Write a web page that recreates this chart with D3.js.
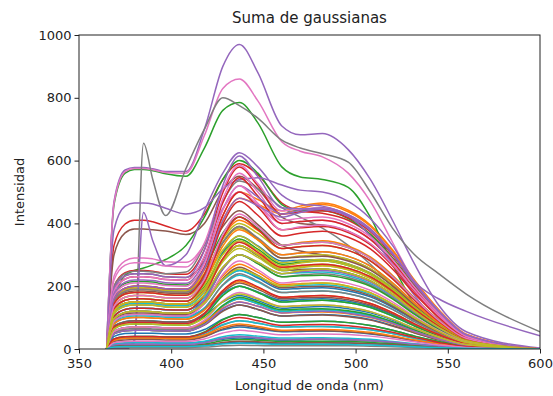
<!DOCTYPE html>
<html>
<head>
<meta charset="utf-8">
<script src="https://cdn.jsdelivr.net/npm/d3@7"></script>
<style>
  html, body { margin: 0; padding: 0; background: #ffffff; }
  svg { display: block; font-family: "DejaVu Sans", sans-serif; }
</style>
</head>
<body>
<svg id="chart" width="553" height="396"></svg>
<script>
// Sample wavelengths (nm) shared by every spectrum
const wavelengths = [365, 369, 375, 380, 385, 390, 397, 408, 418, 428, 437, 447, 460, 470, 482, 496, 508, 520, 532, 545, 560, 600];

// Intensity of each spectrum at the sample wavelengths
const spectra = [
  [0,120,146,150,150,149,144,143,192,308,360,328,280,283,285,271,242,194,134,77,29,0],
  [0,160,194,200,200,198,192,190,260,425,500,476,440,455,465,442,395,316,219,126,47,0],
  [0,460,560,572,572,568,558,550,640,760,785,720,580,548,540,515,420,270,140,55,12,0],
  [0,330,398,410,410,405,392,375,430,540,590,555,465,440,432,410,365,290,200,110,35,0],
  [0,470,570,578,578,574,565,565,700,900,970,880,710,682,686,635,540,410,270,140,55,3],
  [0,300,370,382,382,380,376,365,400,505,550,510,420,400,395,375,335,270,185,100,30,0],
  [0,465,565,575,575,571,562,560,680,830,860,790,660,630,612,560,470,340,210,100,30,1],
  [0,0,0,20,655,540,425,575,700,800,775,735,665,640,622,595,500,385,300,240,175,55],
  [0,160,194,200,200,198,192,190,240,350,400,368,320,326,330,314,281,224,155,89,33,0],
  [0,116,141,145,145,144,139,138,182,284,330,298,250,253,255,242,217,173,120,69,26,0],

  [0,104,126,130,130,129,125,124,154,220,250,226,190,193,195,185,166,133,92,53,20,0],
  [0,156,189,195,195,193,187,185,252,409,480,460,430,448,460,437,391,313,216,124,46,0],
  [0,150,235,250,258,268,285,330,420,540,600,560,460,440,440,415,365,290,200,110,35,0],
  [0,200,243,250,250,248,240,238,316,498,580,520,430,436,440,418,374,299,207,119,44,0],
  [0,380,455,465,465,462,448,430,450,510,540,545,522,506,500,470,415,330,215,160,120,42],
  [0,192,233,240,240,238,230,228,280,390,440,396,330,312,300,285,255,204,141,81,30,0],
  [0,232,281,290,290,287,278,276,332,448,500,460,400,406,410,390,349,279,193,111,41,0],
  [0,200,240,248,248,245,240,245,330,470,535,510,450,420,385,330,270,200,130,65,20,0],
  [0,156,189,195,195,193,187,185,233,338,385,347,290,296,300,285,255,204,141,81,30,0],
  [0,104,126,130,130,129,125,124,164,258,300,276,240,243,245,233,208,167,115,66,25,0],

  [0,88,107,110,110,109,106,105,128,178,200,182,155,158,160,152,136,109,75,43,16,0],
  [0,152,184,190,190,188,182,181,234,355,410,378,330,339,345,328,293,235,162,93,35,0],
  [0,172,209,215,215,213,206,204,256,369,420,384,330,336,340,323,289,231,160,92,34,0],
  [0,184,223,230,230,228,221,219,293,466,545,487,400,406,410,390,349,279,193,111,41,0],
  [0,0,0,30,435,345,265,300,440,560,625,580,490,462,455,425,360,270,170,80,20,0],
  [0,148,179,185,185,183,178,176,226,339,390,350,290,293,295,280,251,201,139,80,30,0],
  [0,220,267,275,275,272,264,261,337,508,585,527,440,446,450,428,383,306,212,122,45,0],
  [0,152,184,190,190,188,182,181,230,340,390,354,300,306,310,295,264,211,146,84,31,0],
  [0,144,175,180,180,178,173,171,216,315,360,326,275,281,285,271,242,194,134,77,29,0],
  [0,96,116,120,120,119,115,114,146,218,250,230,200,203,205,195,174,139,96,55,21,0],

  [0,72,87,90,90,89,86,86,106,150,170,154,130,133,135,128,115,92,63,36,14,0],
  [0,136,165,170,170,168,163,162,212,328,380,348,300,306,310,295,264,211,146,84,31,0],
  [0,128,155,160,160,158,154,152,198,303,350,318,270,276,280,266,238,190,132,76,28,0],
  [0,160,194,200,200,198,192,190,260,425,500,452,380,386,390,371,332,265,183,105,39,0],
  [0,192,233,240,240,238,230,228,315,521,615,549,450,447,445,423,378,303,209,120,45,0],
  [0,120,146,150,150,149,144,143,186,285,330,298,250,253,255,242,217,173,120,69,26,0],
  [0,184,223,230,230,228,221,219,296,478,560,500,410,416,420,399,357,286,197,113,42,0],
  [0,112,136,140,140,139,134,133,172,260,300,272,230,236,240,228,204,163,113,65,24,0],
  [0,136,165,170,170,168,163,162,205,301,345,313,265,274,280,266,238,190,132,76,28,0],
  [0,84,102,105,105,104,101,100,131,203,235,213,180,183,185,176,157,126,87,50,19,0],

  [0,56,68,70,70,69,67,67,84,123,140,126,105,108,110,105,94,75,52,30,11,0],
  [0,120,146,150,150,149,144,143,186,285,330,302,260,263,265,252,225,180,125,72,27,0],
  [0,96,116,120,120,119,115,114,156,255,300,272,230,233,235,223,200,160,110,63,24,0],
  [0,144,175,180,180,178,173,171,238,398,470,426,360,369,375,356,319,255,176,101,38,0],
  [0,176,213,220,220,218,211,209,280,445,520,484,430,442,450,428,383,306,212,122,45,0],
  [0,92,112,115,115,114,110,109,144,224,260,234,195,198,200,190,170,136,94,54,20,0],
  [0,168,204,210,210,208,202,200,272,443,520,464,380,389,395,375,336,269,186,107,40,0],
  [0,80,97,100,100,99,96,95,128,205,240,216,180,183,185,176,157,126,87,50,19,0],
  [0,128,155,160,160,158,154,152,194,288,330,300,255,264,270,257,230,184,127,73,27,0],
  [0,72,87,90,90,89,86,86,112,173,200,180,150,153,155,147,132,105,73,42,16,0],

  [0,40,49,50,50,50,48,48,62,95,110,100,85,87,88,84,75,60,41,24,9,0],
  [0,96,116,120,120,119,115,114,150,233,270,244,205,208,210,200,179,143,99,57,21,0],
  [0,64,78,80,80,79,77,76,104,170,200,180,150,153,155,147,132,105,73,42,16,0],
  [0,128,155,160,160,158,154,152,212,355,420,380,320,326,330,314,281,224,155,89,33,0],
  [0,160,194,200,200,198,192,190,256,410,480,456,420,435,445,423,378,303,209,120,45,0],
  [0,72,87,90,90,89,86,86,114,180,210,190,160,163,165,157,140,112,78,45,17,0],
  [0,136,165,170,170,168,163,162,222,365,430,390,330,336,340,323,289,231,160,92,34,0],
  [0,52,63,65,65,64,62,62,84,136,160,144,120,123,125,119,106,85,59,34,13,0],
  [0,120,146,150,150,149,144,143,184,278,320,292,250,259,265,252,225,180,125,72,27,0],
  [0,56,68,70,70,69,67,67,88,138,160,144,120,123,125,119,106,85,59,34,13,0],

  [0,28,34,35,35,35,34,33,42,61,70,64,55,56,57,54,48,39,27,15,6,0],
  [0,80,97,100,100,99,96,95,123,186,215,195,165,168,170,162,145,116,80,46,17,0],
  [0,48,58,60,60,59,58,57,81,139,165,149,125,127,128,122,109,87,60,35,13,0],
  [0,104,126,130,130,129,125,124,172,288,340,308,260,266,270,257,230,184,127,73,27,0],
  [0,96,116,120,120,119,115,114,156,255,300,276,240,246,250,238,213,170,118,68,25,0],
  [0,48,58,60,60,59,58,57,76,120,140,126,105,107,108,103,92,73,51,29,11,0],
  [0,88,107,110,110,109,106,105,144,238,280,252,210,216,220,209,187,150,103,59,22,0],
  [0,28,34,35,35,35,34,33,46,76,90,82,70,71,72,68,61,49,34,19,7,0],
  [0,112,136,140,140,139,134,133,172,260,300,276,240,249,255,242,217,173,120,69,26,0],
  [0,32,39,40,40,40,38,38,50,78,90,82,70,71,72,68,61,49,34,19,7,0],

  [0,16,19,20,20,20,19,19,23,31,35,32,28,29,30,29,26,20,14,8,3,0],
  [0,56,68,70,70,69,67,67,86,130,150,136,115,117,118,112,100,80,55,32,12,0],
  [0,32,39,40,40,40,38,38,54,93,110,100,85,87,88,84,75,60,41,24,9,0],
  [0,68,82,85,85,84,82,81,112,186,220,198,165,168,170,162,145,116,80,46,17,0],
  [0,48,58,60,60,59,58,57,78,128,150,136,115,118,120,114,102,82,56,32,12,0],
  [0,24,29,30,30,30,29,29,39,64,75,68,57,58,58,55,49,39,27,16,6,0],
  [0,56,68,70,70,69,67,67,92,153,180,162,135,138,140,133,119,95,66,38,14,0],
  [0,12,15,15,15,15,14,14,20,34,40,36,30,31,31,29,26,21,15,8,3,0],
  [0,96,116,120,120,119,115,114,147,221,255,233,200,206,210,200,179,143,99,57,21,0],
  [0,16,19,20,20,20,19,19,25,39,45,41,35,35,36,34,31,24,17,10,4,0],

  [0,6,8,8,8,8,8,8,11,18,22,20,18,19,20,19,17,14,9,5,2,0],
  [0,28,34,35,35,35,34,33,44,69,80,72,60,61,62,59,53,42,29,17,6,0],
  [0,10,12,12,12,12,12,11,16,26,30,28,24,25,25,24,21,17,12,7,3,0],
  [0,32,39,40,40,40,38,38,52,85,100,90,75,77,78,74,66,53,37,21,8,0],
  [0,12,15,15,15,15,14,14,20,34,40,36,30,31,32,30,27,22,15,9,3,0],
  [0,8,10,10,10,10,10,10,13,21,25,23,19,20,20,19,17,14,9,5,2,0],
  [0,20,24,25,25,25,24,24,32,51,60,54,45,47,48,46,41,33,23,13,5,0],
  [0,4,5,5,5,5,5,5,6,10,12,11,10,10,10,10,9,7,5,3,1,0],
  [0,64,78,80,80,79,77,76,99,151,175,159,135,138,140,133,119,95,66,38,14,0],
  [0,6,8,8,8,8,8,8,10,16,18,17,15,15,15,14,13,10,7,4,2,0]
];

const xTicks = [350, 400, 450, 500, 550, 600];
const yTicks = [0, 200, 400, 600, 800, 1000];

const titleText = "Suma de gaussianas";
const xLabelText = "Longitud de onda (nm)";
const yLabelText = "Intensidad";

// Layout
const margin = { left: 79, right: 13, top: 35, bottom: 47 };
const W = 553, H = 396;
const plotW = W - margin.left - margin.right;
const plotH = H - margin.top - margin.bottom;

const svg = d3.select("#chart");

const x = d3.scaleLinear().domain([350, 600]).range([0, plotW]);
const y = d3.scaleLinear().domain([0, 1000]).range([plotH, 0]);

const g = svg.append("g").attr("transform", `translate(${margin.left},${margin.top})`);

g.append("clipPath").attr("id", "plot-clip")
  .append("rect").attr("x", 0).attr("y", -1).attr("width", plotW).attr("height", plotH + 1);

const palette = d3.schemeCategory10;

const line = d3.line()
  .x((d, i) => x(wavelengths[i]))
  .y(d => y(d))
  .curve(d3.curveMonotoneX);

g.append("g").attr("clip-path", "url(#plot-clip)")
  .selectAll("path")
  .data(spectra)
  .join("path")
  .attr("d", d => line(d))
  .attr("fill", "none")
  .attr("stroke", (d, i) => palette[i % 10])
  .attr("stroke-width", 1.5)
  .attr("stroke-linejoin", "round")
  .attr("stroke-linecap", "round");

// Axes
const xAxis = d3.axisBottom(x).tickValues(xTicks).tickSize(4.5).tickPadding(5).tickFormat(d3.format("d"));
const yAxis = d3.axisLeft(y).tickValues(yTicks).tickSize(4.5).tickPadding(3).tickFormat(d3.format("d"));

const gx = g.append("g").attr("transform", `translate(0,${plotH})`).call(xAxis);
const gy = g.append("g").call(yAxis);

[gx, gy].forEach(a => {
  a.select(".domain").remove();
  a.selectAll(".tick line").attr("stroke", "#222").attr("stroke-width", 1);
  a.selectAll(".tick text").attr("fill", "#222").style("font-size", "13px")
    .style("font-family", "'DejaVu Sans', sans-serif");
});

// Frame
g.append("rect")
  .attr("x", 0).attr("y", 0).attr("width", plotW).attr("height", plotH)
  .attr("fill", "none").attr("stroke", "#222").attr("stroke-width", 1);

// Title and axis labels
svg.append("text")
  .attr("x", margin.left + plotW / 2).attr("y", 23)
  .attr("text-anchor", "middle").attr("fill", "#222")
  .style("font-size", "15px")
  .text(titleText);

svg.append("text")
  .attr("x", margin.left + plotW / 2).attr("y", 390)
  .attr("text-anchor", "middle").attr("fill", "#222")
  .style("font-size", "13px")
  .text(xLabelText);

svg.append("text")
  .attr("transform", `translate(24,${margin.top + plotH / 2}) rotate(-90)`)
  .attr("text-anchor", "middle").attr("fill", "#222")
  .style("font-size", "13px")
  .text(yLabelText);
</script>
</body>
</html>
